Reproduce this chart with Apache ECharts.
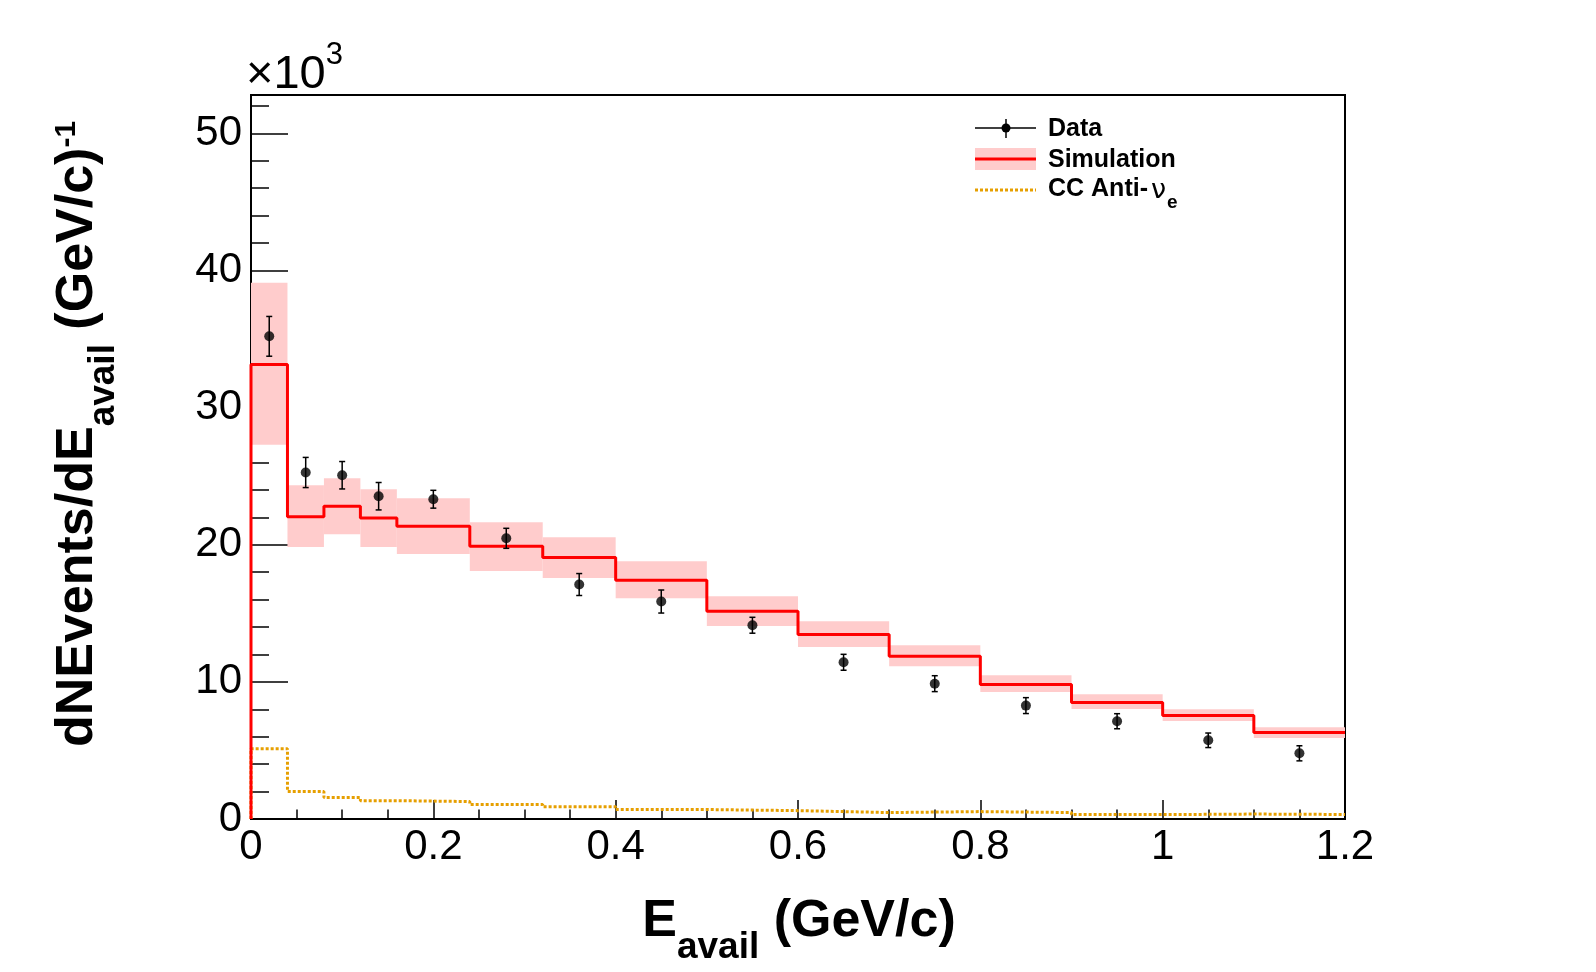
<!DOCTYPE html>
<html>
<head>
<meta charset="utf-8">
<script src="https://cdn.jsdelivr.net/npm/echarts@6/dist/echarts.min.js"></script>
<style>
html,body{margin:0;padding:0;background:#fff;}
#chart{width:1596px;height:972px;}
</style>
</head>
<body>
<div id="chart"></div>
<script>
// ---- data (values in units of 10^3) ----
const binEdges = [0, 0.04, 0.08, 0.12, 0.16, 0.24, 0.32, 0.4, 0.5, 0.6, 0.7, 0.8, 0.9, 1.0, 1.1, 1.2];
const simValues = [33.14, 22.05, 22.81, 21.96, 21.35, 19.89, 19.07, 17.41, 15.15, 13.45, 11.87, 9.80, 8.49, 7.54, 6.30];
const simBandHigh = [39.1, 24.34, 24.85, 24.05, 23.39, 21.64, 20.55, 18.8, 16.24, 14.42, 12.67, 10.48, 9.10, 8.00, 6.69];
const simBandLow = [27.3, 19.84, 20.77, 19.84, 19.33, 18.09, 17.58, 16.1, 14.08, 12.55, 11.14, 9.27, 8.02, 7.15, 5.91];
const ccValues = [5.13, 2.00, 1.56, 1.34, 1.27, 1.05, 0.90, 0.69, 0.61, 0.47, 0.54, 0.47, 0.32, 0.36, 0.33];
const dataX = [0.02, 0.06, 0.10, 0.14, 0.20, 0.28, 0.36, 0.45, 0.55, 0.65, 0.75, 0.85, 0.95, 1.05, 1.15];
const dataY = [35.2, 25.27, 25.07, 23.54, 23.32, 20.47, 17.1, 15.86, 14.13, 11.43, 9.87, 8.27, 7.13, 5.74, 4.79];
const dataErr = [1.45, 1.1, 1.0, 1.0, 0.65, 0.73, 0.8, 0.84, 0.58, 0.58, 0.58, 0.58, 0.55, 0.53, 0.55];
const xTicksMajor = 0.2, xTicksMinor = 0.05;
const yTicksMajor = 10, yTicksMinor = 2;
const yMax = 52.8, xMax = 1.2;

// ---- build series data from arrays ----
function histLine(vals) {
  const pts = [[binEdges[0], 0]];
  for (let i = 0; i < vals.length; i++) {
    pts.push([binEdges[i], vals[i]]);
    pts.push([binEdges[i + 1], vals[i]]);
  }
  return pts;
}
const bandData = simValues.map((v, i) => [binEdges[i], binEdges[i + 1], simBandLow[i], simBandHigh[i]]);
const errData = dataX.map((x, i) => [x, dataY[i] - dataErr[i], dataY[i] + dataErr[i]]);
const pointData = dataX.map((x, i) => [x, dataY[i]]);

const FONT = 'Liberation Sans, Arial, Helvetica, sans-serif';
const chart = echarts.init(document.getElementById('chart'));

const option = {
  backgroundColor: '#ffffff',
  animation: false,
  grid: { left: 251, right: 251, top: 95, bottom: 153, show: true, borderColor: '#000', borderWidth: 2, backgroundColor: 'transparent' },
  xAxis: [
    {
      type: 'value', min: 0, max: xMax, interval: xTicksMajor, position: 'bottom',
      axisLine: { show: true, onZero: false, lineStyle: { color: '#000', width: 2 } },
      axisTick: { show: true, inside: true, length: 19, lineStyle: { color: '#000', width: 1.5 } },
      axisLabel: { show: true, color: '#000', fontSize: 42, fontFamily: FONT, margin: 7 },
      splitLine: { show: false }
    },
    {
      type: 'value', min: 0, max: xMax, interval: xTicksMinor, position: 'bottom',
      axisLine: { show: false },
      axisTick: { show: true, inside: true, length: 9.5, lineStyle: { color: '#000', width: 1.5 } },
      axisLabel: { show: false },
      splitLine: { show: false }
    }
  ],
  yAxis: [
    {
      type: 'value', min: 0, max: yMax, interval: yTicksMajor, position: 'left',
      axisLine: { show: true, onZero: false, lineStyle: { color: '#000', width: 2 } },
      axisTick: { show: true, inside: true, length: 37, lineStyle: { color: '#000', width: 1.5 } },
      axisLabel: { show: true, color: '#000', fontSize: 42, fontFamily: FONT, margin: 9,
        formatter: v => (Math.abs(v % 10) < 1e-9 ? String(v) : '') },
      splitLine: { show: false }
    },
    {
      type: 'value', min: 0, max: yMax, interval: yTicksMinor, position: 'left',
      axisLine: { show: false },
      axisTick: { show: true, inside: true, length: 18, lineStyle: { color: '#000', width: 1.5 } },
      axisLabel: { show: false },
      splitLine: { show: false }
    }
  ],
  series: [
    {
      name: 'Simulation band', type: 'custom', xAxisIndex: 0, yAxisIndex: 0, z: 1,
      data: bandData,
      renderItem: function (params, api) {
        const p1 = api.coord([api.value(0), api.value(3)]);
        const p2 = api.coord([api.value(1), api.value(2)]);
        return { type: 'rect', shape: { x: p1[0], y: p1[1], width: p2[0] - p1[0], height: p2[1] - p1[1] },
          style: { fill: '#ffcccc' } };
      }
    },
    {
      name: 'CC Anti-νe', type: 'line', xAxisIndex: 0, yAxisIndex: 0, z: 2,
      data: histLine(ccValues), symbol: 'none',
      lineStyle: { color: '#e69f00', width: 3, type: [3, 2] }
    },
    {
      name: 'Simulation', type: 'line', xAxisIndex: 0, yAxisIndex: 0, z: 3,
      data: histLine(simValues), symbol: 'none',
      lineStyle: { color: '#ff0000', width: 3 }
    },
    {
      name: 'Data errors', type: 'custom', xAxisIndex: 0, yAxisIndex: 0, z: 4,
      data: errData,
      renderItem: function (params, api) {
        const lo = api.coord([api.value(0), api.value(1)]);
        const hi = api.coord([api.value(0), api.value(2)]);
        const st = { stroke: '#000', lineWidth: 1.5 };
        return { type: 'group', children: [
          { type: 'line', shape: { x1: lo[0], y1: lo[1], x2: hi[0], y2: hi[1] }, style: st },
          { type: 'line', shape: { x1: lo[0] - 3, y1: lo[1], x2: lo[0] + 3, y2: lo[1] }, style: st },
          { type: 'line', shape: { x1: hi[0] - 3, y1: hi[1], x2: hi[0] + 3, y2: hi[1] }, style: st }
        ] };
      }
    },
    {
      name: 'Data', type: 'scatter', xAxisIndex: 0, yAxisIndex: 0, z: 5,
      data: pointData, symbol: 'circle', symbolSize: 10,
      itemStyle: { color: '#000' }
    }
  ],
  graphic: [
    // x10^3
    { type: 'text', x: 246, y: 40, z: 10,
      style: { text: '{a|×10}{b|3}', fill: '#000', align: 'left', verticalAlign: 'top',
        rich: {
          a: { fontSize: 47, fontFamily: FONT, fill: '#000', lineHeight: 47, padding: [12, 0, 0, 0], verticalAlign: 'top' },
          b: { fontSize: 31, fontFamily: FONT, fill: '#000', lineHeight: 31, verticalAlign: 'top' }
        } } },
    // x axis title
    { type: 'text', x: 799, y: 896, z: 10,
      style: { text: '{m|E}{s|avail}{m| (GeV/c)}', align: 'center', verticalAlign: 'top',
        rich: {
          m: { fontSize: 52, fontWeight: 'bold', fontFamily: FONT, fill: '#000', lineHeight: 60, verticalAlign: 'top' },
          s: { fontSize: 37, fontWeight: 'bold', fontFamily: FONT, fill: '#000', lineHeight: 37, padding: [33, 0, 0, 0], verticalAlign: 'top' }
        } } },
    // y axis title
    { type: 'text', x: 82, y: 434, rotation: Math.PI / 2, z: 10,
      style: { text: '{m|dNEvents/dE}{s|avail}{m| (GeV/c)}{p|-1}', align: 'center', verticalAlign: 'middle',
        rich: {
          m: { fontSize: 52, fontWeight: 'bold', fontFamily: FONT, fill: '#000', lineHeight: 60, verticalAlign: 'top' },
          s: { fontSize: 37, fontWeight: 'bold', fontFamily: FONT, fill: '#000', lineHeight: 37, padding: [33, 0, 0, 0], verticalAlign: 'top' },
          p: { fontSize: 30, fontWeight: 'bold', fontFamily: FONT, fill: '#000', lineHeight: 30, verticalAlign: 'top' }
        } } },
    // legend: Data
    { type: 'line', z: 10, shape: { x1: 975, y1: 128, x2: 1036, y2: 128 }, style: { stroke: '#000', lineWidth: 1.5 } },
    { type: 'line', z: 10, shape: { x1: 1006, y1: 119, x2: 1006, y2: 138 }, style: { stroke: '#000', lineWidth: 1.5 } },
    { type: 'circle', z: 11, shape: { cx: 1006, cy: 128, r: 4.5 }, style: { fill: '#000' } },
    { type: 'text', z: 10, x: 1048, y: 129, style: { text: 'Data', fontSize: 25, fontWeight: 'bold', fontFamily: FONT, fill: '#000', align: 'left', verticalAlign: 'middle' } },
    // legend: Simulation
    { type: 'rect', z: 10, shape: { x: 975, y: 148, width: 61, height: 22 }, style: { fill: '#ffcccc' } },
    { type: 'line', z: 11, shape: { x1: 975, y1: 159, x2: 1036, y2: 159 }, style: { stroke: '#ff0000', lineWidth: 3 } },
    { type: 'text', z: 10, x: 1048, y: 160, style: { text: 'Simulation', fontSize: 25, fontWeight: 'bold', fontFamily: FONT, fill: '#000', align: 'left', verticalAlign: 'middle' } },
    // legend: CC Anti-nu_e
    { type: 'line', z: 10, shape: { x1: 975, y1: 190, x2: 1036, y2: 190 }, style: { stroke: '#e69f00', lineWidth: 3, lineDash: [3, 2] } },
    { type: 'text', z: 10, x: 1048, y: 177, style: { text: '{m|CC Anti-}{n|ν}{e|e}', align: 'left', verticalAlign: 'top',
        rich: {
          m: { fontSize: 25, fontWeight: 'bold', fontFamily: FONT, fill: '#000', lineHeight: 28, verticalAlign: 'top' },
          n: { fontSize: 27, fontFamily: 'DejaVu Sans, sans-serif', fill: '#000', lineHeight: 28, verticalAlign: 'top', padding: [0, 0, 0, 3] },
          e: { fontSize: 19, fontWeight: 'bold', fontFamily: FONT, fill: '#000', lineHeight: 19, padding: [16, 0, 0, 1], verticalAlign: 'top' }
        } } }
  ]
};
chart.setOption(option);
</script>
</body>
</html>
